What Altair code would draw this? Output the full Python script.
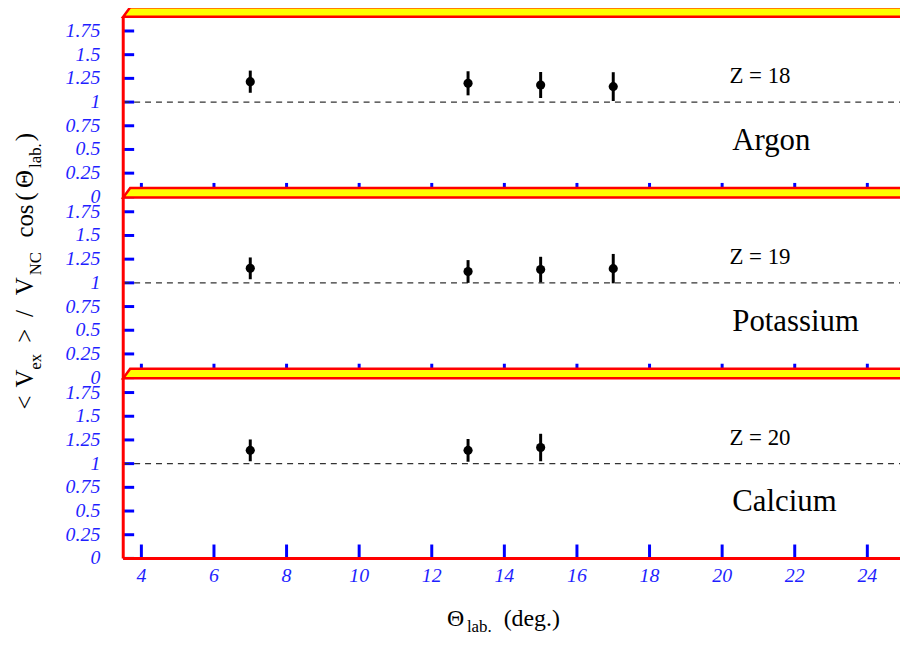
import altair as alt
import pandas as pd

# ---------------- data ----------------
elements = ["Argon", "Potassium", "Calcium"]
z_labels = ["Z = 18", "Z = 19", "Z = 20"]
angles = [[7, 13, 15, 17], [7, 13, 15, 17], [7, 13, 15]]
ratios = [[1.215, 1.198, 1.18, 1.163], [1.153, 1.12, 1.14, 1.15], [1.14, 1.14, 1.17]]
errors = [[0.117, 0.127, 0.137, 0.152], [0.115, 0.12, 0.135, 0.155], [0.115, 0.12, 0.145]]
y_ticks = [0, 0.25, 0.5, 0.75, 1, 1.25, 1.5, 1.75]
y_tick_labels = ["0", "0.25", "0.5", "0.75", "1", "1.25", "1.5", "1.75"]
x_ticks = [4, 6, 8, 10, 12, 14, 16, 18, 20, 22, 24]
reference_level = 1.0

# ---------------- layout ----------------
W, H = 782, 552
X_MIN, X_MAX = 3.5, 24.9
Y_TOP = 5.785
PX_PER_Y = H / Y_TOP
PX_PER_X = W / (X_MAX - X_MIN)
STEP = 182 / PX_PER_Y          # vertical offset between panels (data units)
PANEL_TOP = 2.0
BAND_LOW = 1.9
SERIF = "Liberation Serif"
BLUE = "#0000ff"
LABEL_BLUE = "#1f1fff"

def off(k):
    return (len(elements) - 1 - k) * STEP

xs = alt.Scale(domain=[X_MIN, X_MAX], nice=False, zero=False)
ys = alt.Scale(domain=[0, Y_TOP], nice=False, zero=False)

def X(f):
    return alt.X(f, type="quantitative", scale=xs, axis=None)

def Y(f):
    return alt.Y(f, type="quantitative", scale=ys, axis=None)

# points
rows = []
for k, el in enumerate(elements):
    for a, r, e in zip(angles[k], ratios[k], errors[k]):
        rows.append({"panel": el, "off": off(k), "angle": a, "ratio": r, "err": e})
pts = pd.DataFrame(rows)

# y ticks
yt = pd.DataFrame([{"panel": el, "off": off(k), "v": v, "label": lab}
                   for k, el in enumerate(elements) for v, lab in zip(y_ticks, y_tick_labels)])
# x ticks
xt = pd.DataFrame([{"panel": el, "off": off(k), "x": x}
                   for k, el in enumerate(elements) for x in x_ticks])
xlab = pd.DataFrame({"x": x_ticks, "label": [str(x) for x in x_ticks]})
# panel-level info
pan = pd.DataFrame({"panel": elements, "z": z_labels, "off": [off(k) for k in range(len(elements))]})
# top bands (3D box lids)
band_rows = []
slant = 7 / PX_PER_X
for k, el in enumerate(elements):
    o = off(k)
    for x, top in [(X_MIN, BAND_LOW), (X_MIN + slant, PANEL_TOP), (25.5, PANEL_TOP)]:
        band_rows.append({"panel": el, "x": x, "top": top + o, "bot": BAND_LOW + o})
band = pd.DataFrame(band_rows)
frame = pd.DataFrame({"y0": [0.0], "y1": [BAND_LOW + off(0)]})

base_pan = alt.Chart(pan)

ytick_rules = alt.Chart(yt).transform_calculate(yv="datum.v + datum.off").mark_rule(
    color=BLUE, strokeWidth=3).encode(x=alt.value(0), x2=alt.value(11), y=Y("yv"))

xtick_rules = alt.Chart(xt).transform_calculate(
    y0="datum.off", y1=f"datum.off + {14 / PX_PER_Y}").mark_rule(
    color=BLUE, strokeWidth=3).encode(x=X("x"), y=Y("y0"), y2="y1:Q")

dashes = base_pan.transform_calculate(yv=f"{reference_level} + datum.off").mark_rule(
    color="#333333", strokeWidth=1.2, strokeDash=[6, 5]).encode(
    x=alt.value(0), x2=alt.value(W + 4), y=Y("yv"))

bands = alt.Chart(band).mark_area(
    fill="#ffff00", stroke="#ff0000", strokeWidth=2.5, interpolate="linear", fillOpacity=1).encode(
    x=X("x"), y=Y("top"), y2="bot:Q", detail="panel:N")

left_line = alt.Chart(frame).mark_rule(color="#ff0000", strokeWidth=3).encode(
    x=alt.value(0), y=Y("y0"), y2="y1:Q")
bottom_line = alt.Chart(frame).mark_rule(color="#ff0000", strokeWidth=3).encode(
    x=alt.value(0), x2=alt.value(W + 4), y=Y("y0"))

errbars = alt.Chart(pts).transform_calculate(
    lo="datum.ratio - datum.err + datum.off", hi="datum.ratio + datum.err + datum.off").mark_rule(
    color="black", strokeWidth=3).encode(x=X("angle"), y=Y("lo"), y2="hi:Q")
dots = alt.Chart(pts).transform_calculate(yv="datum.ratio + datum.off").mark_circle(
    color="black", size=85, opacity=1).encode(x=X("angle"), y=Y("yv"))

z_text = base_pan.transform_calculate(yv="1.27 + datum.off", xv="20.2").mark_text(
    font=SERIF, fontSize=23, align="left", baseline="middle", color="black").encode(
    x=X("xv"), y=Y("yv"), text="z:N")
el_text = base_pan.transform_calculate(yv="0.59 + datum.off", xv="20.28").mark_text(
    font=SERIF, fontSize=31, align="left", baseline="middle", color="black").encode(
    x=X("xv"), y=Y("yv"), text="panel:N")

ylabels = alt.Chart(yt).transform_calculate(yv="datum.v + datum.off").mark_text(
    font=SERIF, fontSize=20, fontStyle="italic", align="right", baseline="middle",
    color=LABEL_BLUE).encode(x=alt.value(-23), y=Y("yv"), text="label:N")
xlabels = alt.Chart(xlab).mark_text(
    font=SERIF, fontSize=20, fontStyle="italic", align="center", baseline="middle",
    color=LABEL_BLUE).encode(x=X("x"), y=alt.value(H + 18), text="label:N")

# axis titles built from pieces (for subscripts)
def piece(text, px, py, size, angle=0):
    kw = dict(font=SERIF, fontSize=size, align="left", baseline="alphabetic", color="black")
    if angle:
        kw["angle"] = angle
    return alt.Chart(pan).transform_filter("datum.off == 0").mark_text(text=text, **kw).encode(
        x=alt.value(px), y=alt.value(py))

OX, OY = 124, 8
ytitle_parts = [("<", 410, 33, 25), ("V", 388, 33, 25), ("ex", 370, 41, 17), (">", 343, 33, 25),
                ("/", 317, 33, 25), ("V", 295, 33, 25), ("NC", 275, 41, 17), ("cos", 237, 33, 25),
                ("(", 200, 33, 25), ("\u0398", 187, 33, 25), ("lab.", 167, 41, 17), (")", 140, 33, 25)]
ytitle = [piece(t, bx - OX, sy - OY, s, 270) for t, sy, bx, s in ytitle_parts]
xtitle_parts = [("\u0398", 450, 628, 24), ("lab.", 470, 634, 17), ("(deg.)", 507, 628, 24)]
xtitle = [piece(t, sx - OX, by - OY, s) for t, sx, by, s in xtitle_parts]

chart = alt.layer(
    xtick_rules, ytick_rules, dashes, bands, left_line, bottom_line,
    errbars, dots, z_text, el_text, ylabels, xlabels, *ytitle, *xtitle
).properties(
    width=W, height=H,
    padding={"left": 116, "top": 0, "right": 0, "bottom": 78},
    autosize=alt.AutoSizeParams(type="none"),
).configure_view(stroke=None)

chart.save("out.html", embed_options={"renderer": "svg", "actions": False})
